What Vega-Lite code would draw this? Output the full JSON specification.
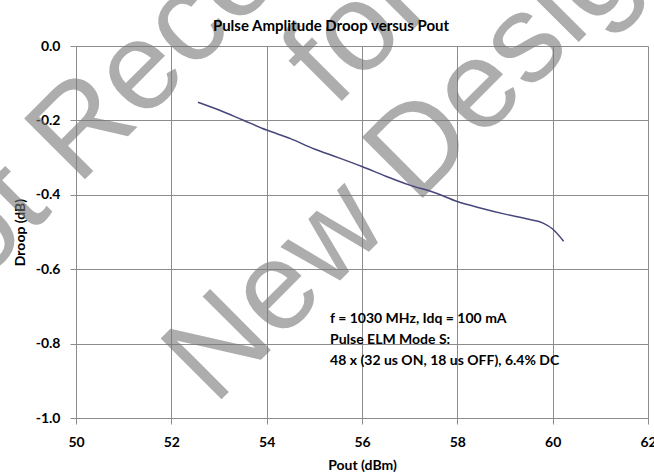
{
  "$schema": "https://vega.github.io/schema/vega-lite/v6.json",
  "width": 572,
  "height": 372,
  "autosize": {"type": "none"},
  "padding": {"left": 76, "top": 46, "right": 6, "bottom": 58},
  "background": "white",
  "config": {"view": {"stroke": null}, "font": "Lato"},
  "datasets": {
    "droop": [
      {"pout": 52.56, "droop": -0.151},
      {"pout": 53.0, "droop": -0.172},
      {"pout": 53.5, "droop": -0.199},
      {"pout": 54.0, "droop": -0.226},
      {"pout": 54.5, "droop": -0.249},
      {"pout": 55.0, "droop": -0.277},
      {"pout": 55.5, "droop": -0.300},
      {"pout": 56.0, "droop": -0.324},
      {"pout": 56.5, "droop": -0.350},
      {"pout": 57.0, "droop": -0.374},
      {"pout": 57.5, "droop": -0.393},
      {"pout": 58.0, "droop": -0.418},
      {"pout": 58.5, "droop": -0.436},
      {"pout": 59.0, "droop": -0.452},
      {"pout": 59.5, "droop": -0.466},
      {"pout": 59.8, "droop": -0.476},
      {"pout": 60.0, "droop": -0.492},
      {"pout": 60.23, "droop": -0.525}
    ],
    "watermark": [{"pout": 54.06, "droop": 0.282, "t": ["Not Recommended", "for", "New Designs"]}],
    "note": [{"pout": 55.33, "droop": -0.734, "t": ["f = 1030 MHz, Idq = 100 mA", "Pulse ELM Mode S:", "48 x (32 us ON, 18 us OFF), 6.4% DC"]}],
    "heading": [{"pout": 55.35, "droop": 0.054, "t": "Pulse Amplitude Droop versus Pout"}]
  },
  "layer": [
    {
      "data": {"name": "watermark"},
      "mark": {"type": "text", "font": "Liberation Sans", "fontSize": 125, "lineHeight": 126, "angle": -45, "align": "center", "baseline": "middle", "fill": "#777777", "opacity": 0.6},
      "encoding": {
        "x": {"field": "pout", "type": "quantitative", "scale": {"domain": [50, 62], "nice": false, "zero": false}},
        "y": {"field": "droop", "type": "quantitative", "scale": {"domain": [-1, 0], "nice": false, "zero": false}},
        "text": {"field": "t"}
      }
    },
    {
      "data": {"name": "droop"},
      "mark": {"type": "line", "color": "#46467a", "strokeWidth": 1.5, "interpolate": "monotone"},
      "encoding": {
        "x": {"field": "pout", "type": "quantitative", "scale": {"domain": [50, 62], "nice": false, "zero": false},
          "axis": {"title": "Pout (dBm)", "values": [50, 52, 54, 56, 58, 60, 62], "format": "d", "grid": true, "gridColor": "#8c8c8c", "gridOpacity": 1, "domainColor": "#8c8c8c", "tickColor": "#8c8c8c", "tickSize": 6, "labelFont": "Lato", "labelFontSize": 14, "labelFontWeight": "bold", "labelColor": "#000000", "labelPadding": 11, "labelFlush": false, "labelOverlap": false, "titleFont": "Lato", "titleFontSize": 14, "titleFontWeight": "bold", "titleColor": "#000000", "titlePadding": 9}},
        "y": {"field": "droop", "type": "quantitative", "scale": {"domain": [-1, 0], "nice": false, "zero": false},
          "axis": {"title": "Droop (dB)", "values": [-1, -0.8, -0.6, -0.4, -0.2, 0], "labelExpr": "datum.value == 0 ? '0.0' : '-' + format(-datum.value, '.1f')", "grid": true, "gridColor": "#8c8c8c", "gridOpacity": 1, "domainColor": "#8c8c8c", "tickColor": "#8c8c8c", "tickSize": 6, "labelFont": "Lato", "labelFontSize": 14, "labelFontWeight": "bold", "labelColor": "#000000", "labelPadding": 10, "labelFlush": false, "labelOverlap": false, "titleFont": "Lato", "titleFontSize": 14, "titleFontWeight": "bold", "titleColor": "#000000", "titlePadding": 8}}
      }
    },
    {
      "data": {"name": "note"},
      "mark": {"type": "text", "font": "Lato", "fontSize": 14, "fontWeight": "bold", "lineHeight": 21, "align": "left", "baseline": "middle", "color": "#000000"},
      "encoding": {
        "x": {"field": "pout", "type": "quantitative", "scale": {"domain": [50, 62], "nice": false, "zero": false}},
        "y": {"field": "droop", "type": "quantitative", "scale": {"domain": [-1, 0], "nice": false, "zero": false}},
        "text": {"field": "t"}
      }
    },
    {
      "data": {"name": "heading"},
      "mark": {"type": "text", "font": "Lato", "fontSize": 15, "fontWeight": "bold", "align": "center", "baseline": "middle", "color": "#000000"},
      "encoding": {
        "x": {"field": "pout", "type": "quantitative", "scale": {"domain": [50, 62], "nice": false, "zero": false}},
        "y": {"field": "droop", "type": "quantitative", "scale": {"domain": [-1, 0], "nice": false, "zero": false}},
        "text": {"field": "t"}
      }
    }
  ]
}
